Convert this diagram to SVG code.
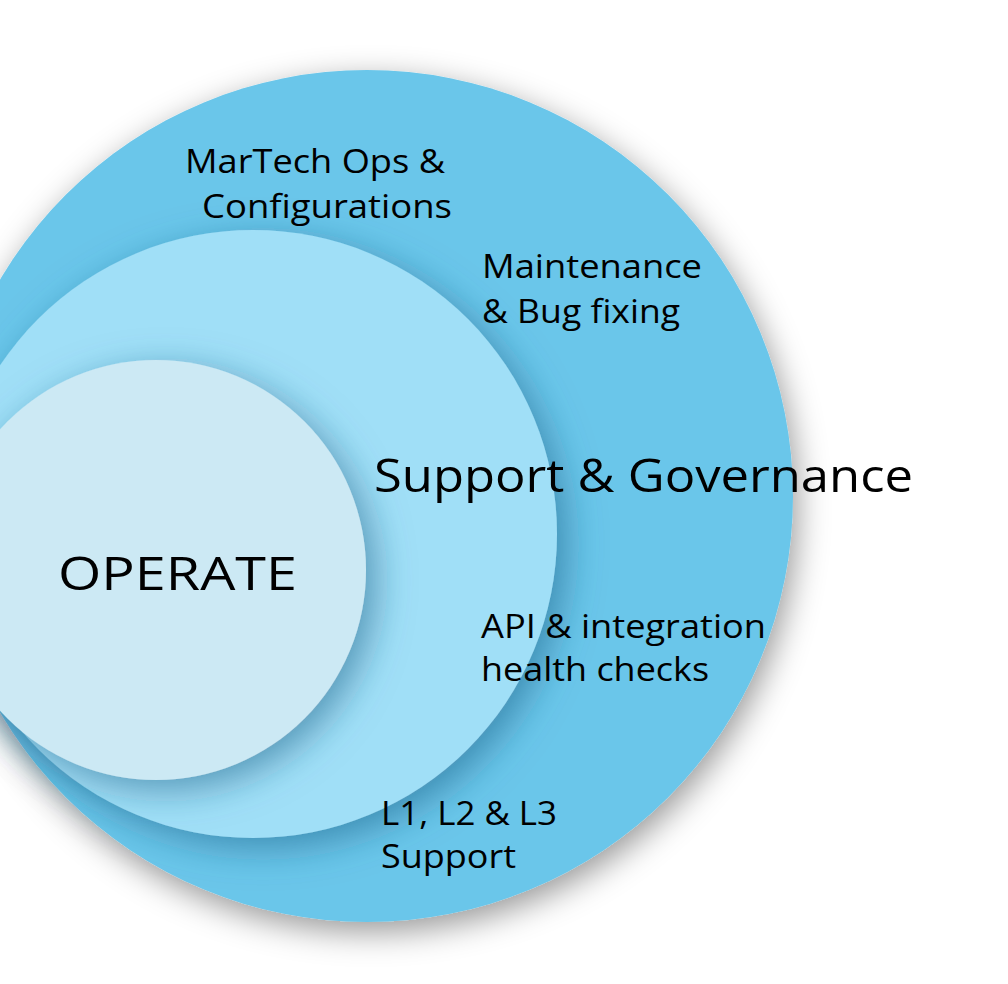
<svg xmlns="http://www.w3.org/2000/svg" width="1008" height="984" viewBox="0 0 1008 984">
<style>
.t{font-family:"Open Sans","Lato",sans-serif;fill:#000;}
.s{font-size:32px;}
</style>
<defs>
<filter id="sh0" x="-20%" y="-20%" width="140%" height="140%">
<feDropShadow dx="4" dy="10" stdDeviation="16" flood-color="#000" flood-opacity="0.4"/>
</filter>
<filter id="sh1" x="-20%" y="-20%" width="140%" height="140%">
<feDropShadow dx="10" dy="10" stdDeviation="18" flood-color="#1f5f85" flood-opacity="0.55"/>
</filter>
</defs>
<rect width="1008" height="984" fill="#fff"/>
<g id="outer">
<circle cx="367" cy="496" r="426" fill="#6AC6EA" filter="url(#sh0)"/>
</g>
<g id="middle">
<circle cx="253" cy="534" r="304" fill="#A0DFF7" filter="url(#sh1)"/>
</g>
<g id="inner">
<circle cx="156" cy="570" r="210" fill="#CCE9F4" filter="url(#sh1)"/>
<text class="t" x="58" y="590" font-size="45" font-family="Lato" textLength="239" lengthAdjust="spacingAndGlyphs">OPERATE</text>
</g>
<g id="labels">
<text class="t s" x="185" y="173" textLength="260" lengthAdjust="spacingAndGlyphs">MarTech Ops &amp;</text>
<text class="t s" x="202" y="218" textLength="250" lengthAdjust="spacingAndGlyphs">Configurations</text>
<text class="t s" x="482" y="278" textLength="220" lengthAdjust="spacingAndGlyphs">Maintenance</text>
<text class="t s" x="482" y="323" textLength="198" lengthAdjust="spacingAndGlyphs">&amp; Bug fixing</text>
<text class="t" x="374" y="492" font-size="46" textLength="539" lengthAdjust="spacingAndGlyphs">Support &amp; Governance</text>
<text class="t s" x="481" y="638" textLength="285" lengthAdjust="spacingAndGlyphs">API &amp; integration</text>
<text class="t s" x="481" y="681" textLength="228" lengthAdjust="spacingAndGlyphs">health checks</text>
<text class="t s" x="381" y="825" textLength="176" lengthAdjust="spacingAndGlyphs">L1, L2 &amp; L3</text>
<text class="t s" x="381" y="868" textLength="135" lengthAdjust="spacingAndGlyphs">Support</text>
</g>
<g id="connectors"/>
</svg>
